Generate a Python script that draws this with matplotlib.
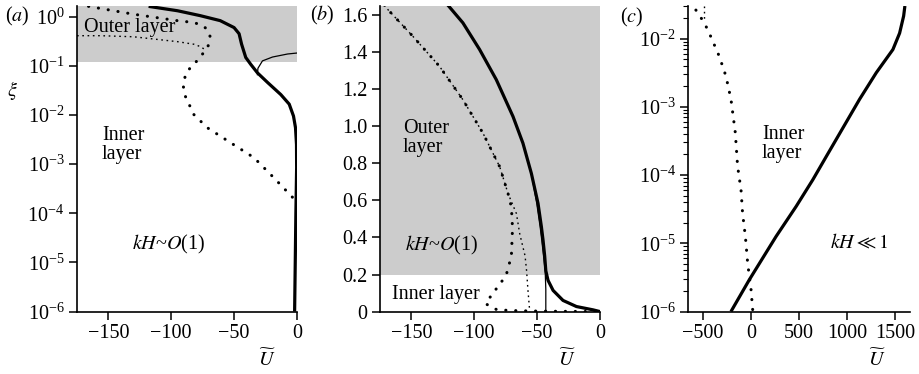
import matplotlib
matplotlib.use("Agg")
import matplotlib.pyplot as plt
from matplotlib.ticker import NullLocator, LogLocator

plt.rcParams['font.family'] = ['Liberation Serif', 'DejaVu Serif']
plt.rcParams['mathtext.fontset'] = 'stix'
plt.rcParams['font.size'] = 14.5

# ---- panel (a): log scale in xi ----
a_thick_u = [-118, -95, -77, -61, -50, -46, -44, -40.7, -36.7, -31.4, -23.4,
             -12.8, -6.1, -2.7, -1.1, -0.3, -0.2, -0.8, -1.3, -1.8]
a_thick_xi = [1.62, 1.32, 1.05, 0.83, 0.60, 0.45, 0.275, 0.148, 0.107, 0.072,
              0.046, 0.026, 0.0166, 0.0095, 0.0055, 0.0025, 0.00085, 1e-4, 1e-5, 1e-6]
a_thin_u = [-31.4, -31.0, -27.4, -19.4, -7.4, 0]
a_thin_xi = [0.066, 0.089, 0.126, 0.151, 0.174, 0.182]
a_dot_u = [-165.8, -129.8, -95.2, -82, -75, -71, -69, -70, -72.6, -76.6, -80.6,
           -84.6, -88.6, -90.4, -89.4, -82, -71.3, -55.3, -34.1, -18.1, -2.6]
a_dot_xi = [1.62, 1.12, 0.83, 0.76, 0.66, 0.54, 0.39, 0.275, 0.204, 0.158, 0.117,
            0.093, 0.068, 0.039, 0.026, 0.0102, 0.0055, 0.0030, 0.00135, 0.00052, 0.0002]
a_thindot_u = [-175, -156, -130, -95, -82, -76.6, -72.6]
a_thindot_xi = [0.41, 0.41, 0.39, 0.31, 0.275, 0.245, 0.209]

# ---- panel (b): linear scale in xi ----
b_thick_u = [-121, -109, -95.7, -82.4, -69.1, -61.2, -54.5, -49.2, -46.5, -45.2,
             -43.9, -43, -41.2, -37.2, -29.3, -18.6, -5.3, 0]
b_thick_xi = [1.655, 1.559, 1.415, 1.252, 1.053, 0.909, 0.746, 0.584, 0.457, 0.385,
              0.30, 0.22, 0.168, 0.114, 0.06, 0.027, 0.009, 0.0]
b_thin_u = [-121, -109, -95.7, -82.4, -69.1, -61.2, -54.5, -50.2, -47.5, -46.2,
            -44.8, -43.5, -43, -43]
b_thin_xi = [1.655, 1.559, 1.415, 1.252, 1.053, 0.909, 0.746, 0.584, 0.457, 0.385,
             0.30, 0.22, 0.12, 0.0]
b_dot_u = [-171.5, -170, -148.9, -127.6, -109, -93, -79.7, -73.1, -70.4, -69.5,
           -70.4, -74.4, -78.4, -82.4, -86.4, -90.9,
           -82, -71, -55, -34, -18, -2.6, 0]
b_dot_xi = [1.655, 1.64, 1.487, 1.324, 1.144, 0.963, 0.782, 0.638, 0.565, 0.45,
            0.30, 0.20, 0.159, 0.123, 0.087, 0.042,
            0.01, 0.0055, 0.003, 0.00135, 0.0005, 0.0002, 0.0]
b_thindot_u = [-171.5, -170, -148.9, -127.6, -109, -93, -79.7, -73.1, -66.4,
               -63.8, -59.5, -58.3, -57.2, -55.8]
b_thindot_xi = [1.655, 1.64, 1.487, 1.324, 1.144, 0.963, 0.782, 0.638, 0.529,
                0.421, 0.30, 0.22, 0.114, 0.0]

# ---- panel (c): kH << 1 ----
c_thick_u = [-209, -18, 261, 470, 643, 783, 1131, 1305, 1478, 1548, 1590, 1603]
c_thick_xi = [1e-6, 2.92e-6, 1.26e-5, 3.47e-5, 8.5e-5, 1.86e-4, 1.29e-3,
              3.16e-3, 6.9e-3, 1.2e-2, 2.14e-2, 3.0e-2]
c_dot_u = [17, 0, -35, -59, -88, -104, -140, -164, -209, -261, -331, -435, -487, -581]
c_dot_xi = [1.07e-6, 2.1e-6, 5.1e-6, 1.26e-5, 2.75e-5, 6.0e-5, 1.35e-4, 4.2e-4,
            1.29e-3, 2.8e-3, 5.5e-3, 1.2e-2, 1.7e-2, 2.7e-2]
c_thindot_u = [-487, -487, -487]
c_thindot_xi = [3.0e-2, 2.4e-2, 1.78e-2]

a_xticks = [-150, -100, -50, 0]
a_xticklabels = ['\u2212150', '\u2212100', '\u221250', '0']
b_yticks = [0, 0.2, 0.4, 0.6, 0.8, 1.0, 1.2, 1.4, 1.6]
b_yticklabels = ['0', '0.2', '0.4', '0.6', '0.8', '1.0', '1.2', '1.4', '1.6']
c_xticks = [-500, 0, 500, 1000, 1500]
c_xticklabels = ['\u2212500', '0', '500', '1000', '1500']

grey = '#cccccc'
thick = dict(color='black', lw=2.3, solid_capstyle='butt', solid_joinstyle='round')
thin = dict(color='black', lw=0.9)
bigdot = dict(color='black', lw=2.2, linestyle=(0, (0.05, 3.2)), dash_capstyle='round')
smalldot = dict(color='black', lw=1.0, linestyle=(0, (1.2, 2.6)))

fig = plt.figure(figsize=(9.2, 3.74), dpi=100)
bottom, height = 0.167, 0.817
ax_a = fig.add_axes([0.0837, bottom, 0.239, height])
ax_b = fig.add_axes([0.413, bottom, 0.239, height])
ax_c = fig.add_axes([0.748, bottom, 0.241, height])

for ax in (ax_a, ax_b, ax_c):
    for s in ('top', 'right'):
        ax.spines[s].set_visible(False)
    for s in ('left', 'bottom'):
        ax.spines[s].set_linewidth(1.2)
    ax.tick_params(which='major', direction='out', length=6, width=1.1, pad=3)
    ax.tick_params(which='minor', direction='out', length=3.5, width=0.8)

# (a)
ax_a.set_yscale('log')
ax_a.set_xlim(-175, 0)
ax_a.set_ylim(1e-6, 1.65)
ax_a.axhspan(0.12, 1.65, color=grey, zorder=0, lw=0)
ax_a.plot(a_thin_u, a_thin_xi, **thin)
ax_a.plot(a_thick_u, a_thick_xi, **thick)
ax_a.plot(a_dot_u, a_dot_xi, **bigdot)
ax_a.plot(a_thindot_u, a_thindot_xi, **smalldot)
ax_a.set_yticks([1e-6, 1e-5, 1e-4, 1e-3, 1e-2, 1e-1, 1e0])
ax_a.yaxis.set_minor_locator(NullLocator())
ax_a.set_xticks(a_xticks, a_xticklabels)
ax_a.text(0.241, 0.93, 'Outer layer', transform=ax_a.transAxes, ha='center', va='center')
ax_a.text(0.114, 0.545, 'Inner\nlayer', transform=ax_a.transAxes, ha='left', va='center',
          linespacing=1.0)
ax_a.text(0.418, 0.221, '$kH$~$O$(1)', transform=ax_a.transAxes, ha='center', va='center')

# (b)
ax_b.set_xlim(-175, 0)
ax_b.set_ylim(0, 1.65)
ax_b.axhspan(0.2, 1.65, color=grey, zorder=0, lw=0)
ax_b.plot(b_thin_u, b_thin_xi, **thin)
ax_b.plot(b_thick_u, b_thick_xi, **thick)
ax_b.plot(b_dot_u, b_dot_xi, **bigdot)
ax_b.plot(b_thindot_u, b_thindot_xi, **smalldot)
ax_b.set_yticks(b_yticks, b_yticklabels)
ax_b.set_xticks(a_xticks, a_xticklabels)
ax_b.text(0.105, 0.567, 'Outer\nlayer', transform=ax_b.transAxes, ha='left', va='center',
          linespacing=1.0)
ax_b.text(0.283, 0.216, '$kH$~$O$(1)', transform=ax_b.transAxes, ha='center', va='center')
ax_b.text(0.055, 0.056, 'Inner layer', transform=ax_b.transAxes, ha='left', va='center')

# (c)
ax_c.set_yscale('log')
ax_c.set_xlim(-655, 1655)
ax_c.set_ylim(1e-6, 3e-2)
ax_c.plot(c_thick_u, c_thick_xi, **thick)
ax_c.plot(c_dot_u, c_dot_xi, **bigdot)
ax_c.plot(c_thindot_u, c_thindot_xi, **smalldot)
ax_c.set_yticks([1e-6, 1e-5, 1e-4, 1e-3, 1e-2])
ax_c.yaxis.set_minor_locator(LogLocator(base=10, subs=range(2, 10)))
ax_c.set_xticks(c_xticks, c_xticklabels)
ax_c.text(0.333, 0.549, 'Inner\nlayer', transform=ax_c.transAxes, ha='left', va='center',
          linespacing=1.0)
ax_c.text(0.77, 0.221, r'$kH \ll 1$', transform=ax_c.transAxes, ha='center', va='center')

for ax, xc in ((ax_a, 0.864), (ax_b, 0.85), (ax_c, 0.851)):
    ax.set_xlabel(r'$\widetilde{U}$')
    ax.xaxis.set_label_coords(xc, -0.125)

fig.text(17 / 920, 1 - 16 / 374, '($a$)', ha='center', va='center')
fig.text(322 / 920, 1 - 15 / 374, '($b$)', ha='center', va='center')
fig.text(632 / 920, 1 - 17 / 374, '($c$)', ha='center', va='center')
fig.text(12 / 920, 1 - 90 / 374, r'$\xi$', ha='center', va='center')

fig.savefig('out.png', dpi=100)
plt.close(fig)
